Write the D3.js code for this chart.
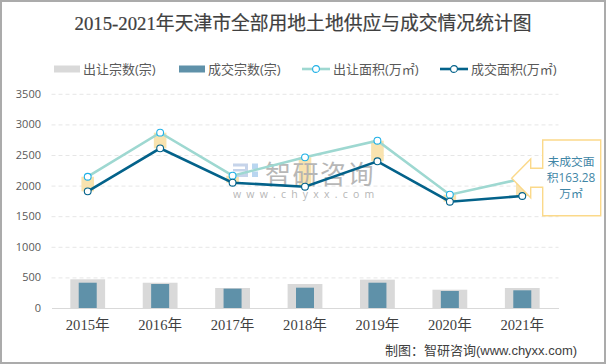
<!DOCTYPE html>
<html>
<head>
<meta charset="utf-8">
<script src="https://cdn.jsdelivr.net/npm/d3@7"></script>
<style>
html, body { margin: 0; padding: 0; background: #fff; }
svg { display: block; }
</style>
</head>
<body>
<svg id="chart" width="606" height="364"></svg>
<script>
const years = ["2015年", "2016年", "2017年", "2018年", "2019年", "2020年", "2021年"]
const yTicks = [0, 500, 1000, 1500, 2000, 2500, 3000, 3500]
const supplyCount = [469, 413, 327, 392, 463, 299, 327]
const dealCount = [413, 392, 316, 332, 413, 278, 289]
const supplyArea = [2145, 2865, 2162, 2462, 2734, 1851, 2114]
const dealArea = [1906, 2609, 2047, 1982, 2397, 1737, 1830]
const legendItems = ["出让宗数(宗)", "成交宗数(宗)", "出让面积(万㎡)", "成交面积(万㎡)"]

const serif = "'Liberation Serif','Noto Sans CJK SC',serif"
const sans = "'Open Sans','Noto Sans CJK SC',sans-serif"

const svg = d3.select("#chart")

svg.append("rect")
    .attr("x", 1).attr("y", 1).attr("width", 604).attr("height", 362)
    .attr("fill", "#fff").attr("stroke", "#ababab").attr("stroke-width", 2)

const x = d3.scaleBand().domain(years).range([51.5, 558.5])
const y = d3.scaleLinear().domain([0, 3500]).range([308, 93.8])
const cx = (d) => x(d) + x.bandwidth() / 2

svg.append("text")
    .attr("x", 303).attr("y", 30)
    .attr("text-anchor", "middle")
    .attr("font-family", serif).attr("font-size", 18.8)
    .attr("fill", "#404040").attr("stroke", "#404040").attr("stroke-width", 0.2)
    .text("2015-2021年天津市全部用地土地供应与成交情况统计图")

// grid
const grid = svg.append("g")
    .attr("transform", "translate(51.5,0)")
    .call(d3.axisLeft(y).tickValues(yTicks.slice(1)).tickSize(-507).tickFormat(""))
grid.select(".domain").remove()
grid.selectAll("line").attr("stroke", "#e6e6e6").attr("stroke-dasharray", "4 3")

// bars
const barsOut = svg.append("g")
barsOut.selectAll("rect").data(years).join("rect")
    .attr("x", (d) => cx(d) - 17.4)
    .attr("width", 34.8)
    .attr("y", (d, i) => y(supplyCount[i]))
    .attr("height", (d, i) => y(0) - y(supplyCount[i]))
    .attr("fill", "#d9d9d9")

const barsIn = svg.append("g")
barsIn.selectAll("rect").data(years).join("rect")
    .attr("x", (d) => cx(d) - 9)
    .attr("width", 18)
    .attr("y", (d, i) => y(dealCount[i]))
    .attr("height", (d, i) => y(0) - y(dealCount[i]))
    .attr("fill", "#5f91a9")

// up-down bars
svg.append("g").selectAll("rect").data(years).join("rect")
    .attr("x", (d) => cx(d) - 6.3)
    .attr("width", 12.6)
    .attr("y", (d, i) => y(supplyArea[i]))
    .attr("height", (d, i) => y(dealArea[i]) - y(supplyArea[i]))
    .attr("fill", "#f9e3af")

// watermark
const mark = svg.append("g")
mark.append("path")
    .attr("d", "M233 163.5H248V177H233V174H245V171.5H233V169H245V166.5H233Z")
    .attr("fill", "#c6d4ea")
mark.append("path")
    .attr("d", "M252 163.5H258V169H252ZM252 171.5H258V177H252Z")
    .attr("fill", "#b9d6f0")
const markText = mark.append("text")
    .attr("font-family", sans).attr("fill", "#b0b0b0").attr("opacity", 0.9)
markText.append("tspan").attr("x", 265).attr("y", 183.5)
    .attr("font-size", 26).attr("letter-spacing", 1.5).text("智研咨询")
markText.append("tspan").attr("x", 233).attr("y", 198)
    .attr("font-size", 10.5).attr("letter-spacing", 5.2).text("www.chyxx.com")

const xAxis = svg.append("g")
    .attr("transform", `translate(0,${y(0)})`)
    .call(d3.axisBottom(x).tickSize(0).tickPadding(12))
xAxis.select(".domain").attr("stroke", "#d9d9d9").attr("stroke-width", 1.2)
xAxis.selectAll("text")
    .attr("font-family", serif).attr("font-size", 14.6).attr("fill", "#404040")

const yAxis = svg.append("g")
    .attr("transform", "translate(41,0)")
    .call(d3.axisLeft(y).tickValues(yTicks).tickSize(0).tickPadding(0).tickFormat(d3.format("d")))
yAxis.select(".domain").remove()
yAxis.selectAll("text")
    .attr("font-family", sans).attr("font-size", 11).attr("fill", "#595959")

// lines
const line = d3.line().x((d, i) => cx(years[i])).y((d) => y(d))

function drawSeries(values, color, edge, width) {
    svg.append("path").datum(values)
        .attr("d", line)
        .attr("fill", "none").attr("stroke", color).attr("stroke-width", width)
    svg.append("g").selectAll("circle").data(values).join("circle")
        .attr("cx", (d, i) => cx(years[i]))
        .attr("cy", (d) => y(d))
        .attr("r", 3.4)
        .attr("fill", "#fff").attr("stroke", edge).attr("stroke-width", 1.1)
}
drawSeries(supplyArea, "#9ed8d1", "#1fb0e6", 2.6)
drawSeries(dealArea, "#03628a", "#03628a", 2.6)

// callout
const callout = d3.path()
callout.moveTo(511.7, 178.3)
callout.lineTo(530.7, 159)
callout.lineTo(530.7, 168.3)
callout.lineTo(542.7, 168.3)
callout.lineTo(542.7, 140)
callout.lineTo(600.7, 140)
callout.lineTo(600.7, 215.7)
callout.lineTo(542.7, 215.7)
callout.lineTo(542.7, 187.3)
callout.lineTo(530.7, 187.3)
callout.lineTo(530.7, 197.7)
callout.closePath()
svg.append("path").attr("d", callout.toString())
    .attr("fill", "#fff").attr("stroke", "#fbd98a").attr("stroke-width", 1.4)

const calloutLines = ["未成交面", "积163.28", "万㎡"]
svg.append("g").selectAll("text").data(calloutLines).join("text")
    .attr("x", 571).attr("y", (d, i) => 166 + i * 16)
    .attr("text-anchor", "middle")
    .attr("font-family", sans).attr("font-size", 11.8).attr("fill", "#3f86a6")
    .text((d) => d)

// legend
const legendX = [54, 179, 302, 440]
const legend = svg.append("g")
legendItems.forEach((name, i) => {
    const g = legend.append("g").attr("transform", `translate(${legendX[i]},69)`)
    if (i < 2) {
        g.append("rect").attr("y", -3.5).attr("width", 26).attr("height", 7)
            .attr("fill", i == 0 ? "#d9d9d9" : "#5f91a9")
    } else {
        g.append("line").attr("x2", 28)
            .attr("stroke", i == 2 ? "#9ed8d1" : "#03628a").attr("stroke-width", 2.6)
        g.append("circle").attr("cx", 14).attr("r", 3.4)
            .attr("fill", "#fff").attr("stroke", i == 2 ? "#1fb0e6" : "#03628a").attr("stroke-width", 1.1)
    }
    g.append("text").attr("x", i < 2 ? 29 : 31).attr("y", 4.5)
        .attr("font-family", sans).attr("font-size", 13).attr("fill", "#595959")
        .text(name)
})

svg.append("text").attr("x", 385).attr("y", 355)
    .attr("font-family", "'Liberation Sans','Noto Sans CJK SC',sans-serif")
    .attr("font-size", 13).attr("fill", "#404040")
    .text("制图：智研咨询(www.chyxx.com)")
</script>
</body>
</html>
